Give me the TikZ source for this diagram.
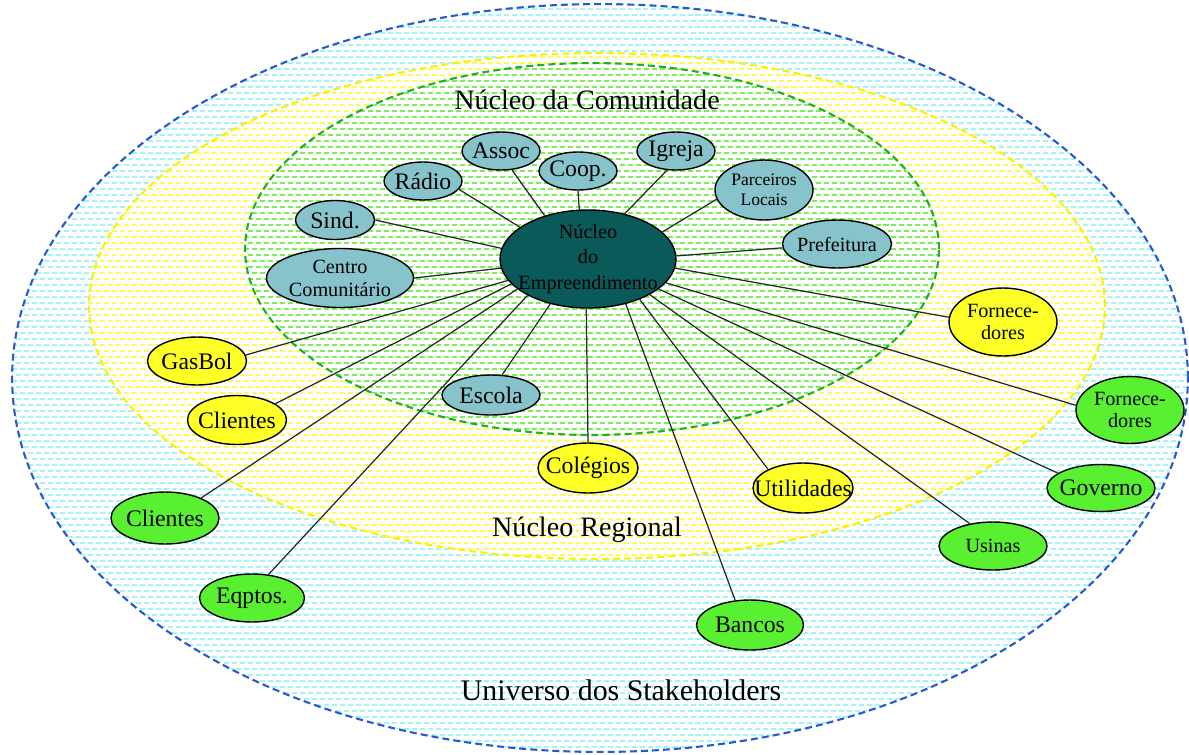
\documentclass[tikz,border=0pt]{standalone}
\usepackage{fontspec}
\setmainfont{Liberation Serif}
\usetikzlibrary{shapes.geometric}

\definecolor{commfill}{RGB}{135,195,202}
\definecolor{regfill}{RGB}{255,255,40}
\definecolor{unifill}{RGB}{90,240,50}
\definecolor{corefill}{RGB}{10,90,90}
\definecolor{uniline}{RGB}{40,90,205}
\definecolor{regline}{RGB}{255,240,0}
\definecolor{commline}{RGB}{30,175,40}
\definecolor{unihatch}{RGB}{160,245,252}
\definecolor{reghatch}{RGB}{255,250,90}
\definecolor{commhatch}{RGB}{120,240,80}

% text that does not widen its ellipse
\newcommand{\nw}[1]{\makebox[0pt]{#1}}

\begin{document}
\begin{tikzpicture}[x=0.02cm,y=-0.02cm,
  sat/.style = {draw, ellipse, inner sep=0pt, line width=0.8pt},
  comm/.style = {sat, fill=commfill},
  reg/.style = {sat, fill=regfill},
  uni/.style = {sat, fill=unifill},
  core/.style = {sat, fill=corefill, align=center, minimum width=3.52cm, minimum height=1.96cm,
                 font=\fontsize{11.5}{14.5}\selectfont},
  big/.style = {font=\fontsize{13.5}{15}\selectfont},
  small/.style = {font=\fontsize{11.5}{13}\selectfont},
  pill/.style = {minimum width=1.56cm, minimum height=0.76cm},
  zone/.style = {font=\fontsize{16}{18}\selectfont},
  hatchline/.style = {line width=0.75pt, dash pattern=on 2.85pt off 1.7pt},
  ringline/.style = {line width=1.2pt, dash pattern=on 4pt off 2.3pt},
  link/.style = {line width=0.7pt, black!85},
]
\useasboundingbox (0,0) rectangle (1189,754);

% universo dos stakeholders
\fill[white] (600,378) ellipse [x radius=11.76cm, y radius=7.48cm];
\begin{scope}
\clip (600,378) ellipse [x radius=11.76cm, y radius=7.48cm];
\foreach \y in {3,15,...,754} {
  \draw[unihatch,hatchline] (0,\y) -- (1189,\y);
  \draw[unihatch,hatchline,dash phase=2.3pt] (0,\y+6) -- (1189,\y+6);
}
\end{scope}
\draw[uniline,ringline] (600,378) ellipse [x radius=11.76cm, y radius=7.48cm];

% nucleo regional
\fill[white] (597,306) ellipse [x radius=10.16cm, y radius=5.06cm];
\begin{scope}
\clip (597,306) ellipse [x radius=10.16cm, y radius=5.06cm];
\foreach \y in {51,63,...,560} {
  \draw[reghatch,hatchline] (80,\y) -- (1110,\y);
  \draw[reghatch,hatchline,dash phase=2.3pt] (80,\y+6) -- (1110,\y+6);
}
\end{scope}
\draw[regline,ringline] (597,306) ellipse [x radius=10.16cm, y radius=5.06cm];

% nucleo da comunidade
\fill[white] (592,249) ellipse [x radius=6.94cm, y radius=3.72cm];
\begin{scope}
\clip (592,249) ellipse [x radius=6.94cm, y radius=3.72cm];
\foreach \y in {63,75,...,436} {
  \draw[commhatch,hatchline] (240,\y) -- (945,\y);
  \draw[commhatch,hatchline,dash phase=2.3pt] (240,\y+6) -- (945,\y+6);
}
\end{scope}
\draw[commline,ringline] (592,249) ellipse [x radius=6.94cm, y radius=3.72cm];

\node (comlbl) at (587,100)[zone] {Núcleo da Comunidade};
\node (reglbl) at (587,530)[zone] {Núcleo Regional};
\node (unilbl) at (621,690)[zone,font=\fontsize{17}{19}\selectfont] {Universo dos Stakeholders};

\node (core) at (588,259)[core] {Núcleo\\do\\\nw{Empreendimento}};

\node (radio) at (423,181)[comm,big,pill] {\nw{Rádio}};
\node (assoc) at (501,151)[comm,big,pill] {\nw{Assoc}};
\node (coop) at (578,171)[comm,big,pill] {\nw{Coop.}};
\node (igreja) at (676,151)[comm,big,pill] {\nw{Igreja}};
\node (parc) at (764,190)[comm,align=center,font=\fontsize{10}{11.5}\selectfont,minimum width=1.96cm,minimum height=1.2cm] {Parceiros\\Locais};
\node (pref) at (837,244)[comm,small,minimum width=2.18cm,minimum height=0.96cm] {\nw{Prefeitura}};
\node (sind) at (335,220)[comm,big,minimum width=1.58cm,minimum height=0.78cm] {\nw{Sind.}};
\node (centro) at (340,278)[comm,small,align=center,minimum width=2.94cm,minimum height=1.18cm] {Centro\\Comunitário};
\node (escola) at (491,395)[comm,big,minimum width=1.96cm,minimum height=0.8cm] {\nw{Escola}};

\node (gasbol) at (197,361)[reg,big,minimum width=1.98cm,minimum height=0.96cm] {\nw{GasBol}};
\node (cliy) at (237,420)[reg,big,minimum width=1.98cm,minimum height=0.98cm] {\nw{Clientes}};
\node (forny) at (1003,322)[reg,small,align=center,minimum width=2.16cm,minimum height=1.36cm] {Fornece-\\dores};
\node (colegios) at (588,468)[reg,big,minimum width=2cm,minimum height=1cm] {\nw{Colégios}};
\node (util) at (803,488)[reg,big,minimum width=2cm,minimum height=1cm] {\nw{Utilidades}};

\node (forng) at (1130,410)[uni,small,align=center,minimum width=2.16cm,minimum height=1.34cm] {Fornece-\\dores};
\node (governo) at (1101,488)[uni,big,minimum width=2.16cm,minimum height=0.94cm] {\nw{Governo}};
\node (usinas) at (993,546)[uni,small,minimum width=2.16cm,minimum height=0.96cm] {\nw{Usinas}};
\node (bancos) at (750,625)[uni,big,minimum width=2.14cm,minimum height=1cm] {\nw{Bancos}};
\node (clig) at (165,518)[uni,big,minimum width=2.16cm,minimum height=1.04cm] {\nw{Clientes}};
\node (eqptos) at (252,598)[uni,big,minimum width=2.1cm,minimum height=0.96cm] {\nw{Eqptos.}};

\draw[link] (core.155)--(radio.347);
\draw[link] (core.135)--(assoc.300);
\draw[link] (core.100)--(coop.270);
\draw[link] (core.51)--(igreja.245);
\draw[link] (core.20)--(parc.191);
\draw[link] (core.2)--(pref.184);
\draw[link] (core.173)--(sind.0);
\draw[link] (core.186)--(centro.0);
\draw[link] (core.195)--(gasbol.7);
\draw[link] (core.198)--(cliy.23);
\draw[link] (core.203)--(clig.29);
\draw[link] (core.211)--(eqptos.55);
\draw[link] (core.230)--(escola.61);
\draw[link] (core.268)--(colegios.90);
\draw[link] (core.310)--(bancos.121);
\draw[link] (core.322)--(util.152);
\draw[link] (core.330)--(usinas.136);
\draw[link] (core.337)--(governo.161);
\draw[link] (core.343)--(forng.175);
\draw[link] (core.354)--(forny.175);
\end{tikzpicture}
\end{document}
